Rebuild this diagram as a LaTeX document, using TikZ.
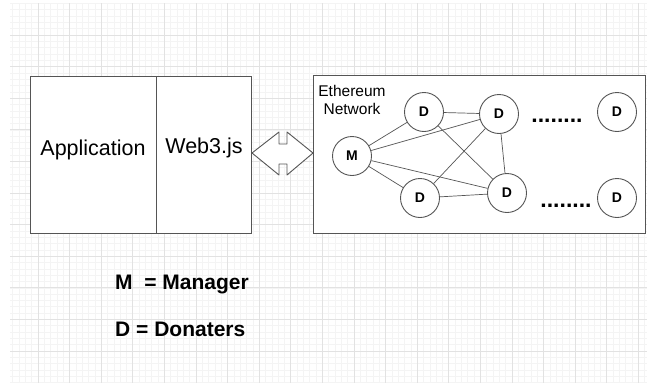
\documentclass[tikz,border=0pt]{standalone}
\usepackage{fontspec}
\setmainfont{Liberation Sans}
\usepackage{tikz}
\usetikzlibrary{positioning}
\definecolor{linegray}{RGB}{85,85,85}
\definecolor{minorgray}{RGB}{244,244,244}
\definecolor{majorgray}{RGB}{226,226,226}

\begin{document}
\begin{tikzpicture}[x=1pt,y=-1pt,
  minorline/.style={minorgray,line width=0.6pt},
  majorline/.style={majorgray,line width=0.7pt},
  block/.style={draw=linegray,fill=white,line width=0.9pt,inner sep=0pt,font=\fontsize{21.5}{24}\selectfont},
  peer/.style={circle,draw=linegray,fill=white,line width=0.9pt,minimum size=39pt,inner sep=0pt,font=\fontsize{14}{16}\selectfont\bfseries},
  link/.style={linegray,line width=0.7pt},
  ellipsis/.style={anchor=base,inner sep=0pt,font=\fontsize{23}{24}\selectfont\bfseries},
  legend/.style={anchor=west,inner sep=0pt,font=\fontsize{21}{24}\selectfont\bfseries}]
\useasboundingbox (0,0) rectangle (647,383);
\fill[white] (0,0) rectangle (647,383);
\foreach \i in {0,...,100}
  \draw[minorline] ({12.7+6.32*\i},3.4) -- ({12.7+6.32*\i},383);
\foreach \j in {0,...,60}
  \draw[minorline] (10,{3.4+6.32*\j}) -- (647,{3.4+6.32*\j});
\foreach \i in {0,...,19}
  \draw[majorline] ({38+31.6*\i},3.4) -- ({38+31.6*\i},383);
\foreach \j in {0,...,10}
  \draw[majorline] (10,{35+31.6*\j}) -- (647,{35+31.6*\j});
\node[block,minimum width=126pt,minimum height=157pt] (app) at (93,154.5) {};
\node[block,minimum width=95pt,minimum height=157pt] (web3) at (203.5,154.5) {};
\node[font=\fontsize{21.5}{24}\selectfont] (applabel) at (93,150) {Application};
\node[font=\fontsize{21.5}{24}\selectfont] (web3label) at (204,148) {Web3.js};
\node[block,minimum width=332pt,minimum height=158pt] (net) at (479,154) {};
\node[align=center,inner sep=0pt,font=\fontsize{15.5}{18}\selectfont] (netlabel) at (352,100) {Ethereum\\Network};
\draw[linegray,fill=white,line width=0.9pt,line join=round] (252,153) -- (279,132) -- (279,144) -- (287,144) -- (287,132) -- (313,153) -- (287,175) -- (287,164) -- (279,164) -- (279,175) -- cycle;
\node[peer] (m) at (352,156) {M};
\node[peer] (d1) at (424,112) {D};
\node[peer] (d2) at (499,114) {D};
\node[peer] (d3) at (617,112) {D};
\node[peer] (d4) at (420,198) {D};
\node[peer] (d5) at (507,193) {D};
\node[peer] (d6) at (617,198) {D};
\draw[link] (m) -- (d1);
\draw[link] (m) -- (d2);
\draw[link] (m) -- (d5);
\draw[link] (m) -- (d4);
\draw[link] (d1) -- (d2);
\draw[link] (d1) -- (d5);
\draw[link] (d4) -- (d2);
\draw[link] (d4) -- (d5);
\draw[link] (d2) -- (d5);
\node[ellipsis] (dotstop) at (557,122) {........};
\node[ellipsis] (dotsbottom) at (566,207) {........};
\node[legend] (mkey) at (115,284) {M\ \ = Manager};
\node[legend] (dkey) at (115,329) {D = Donaters};
\end{tikzpicture}
\end{document}
